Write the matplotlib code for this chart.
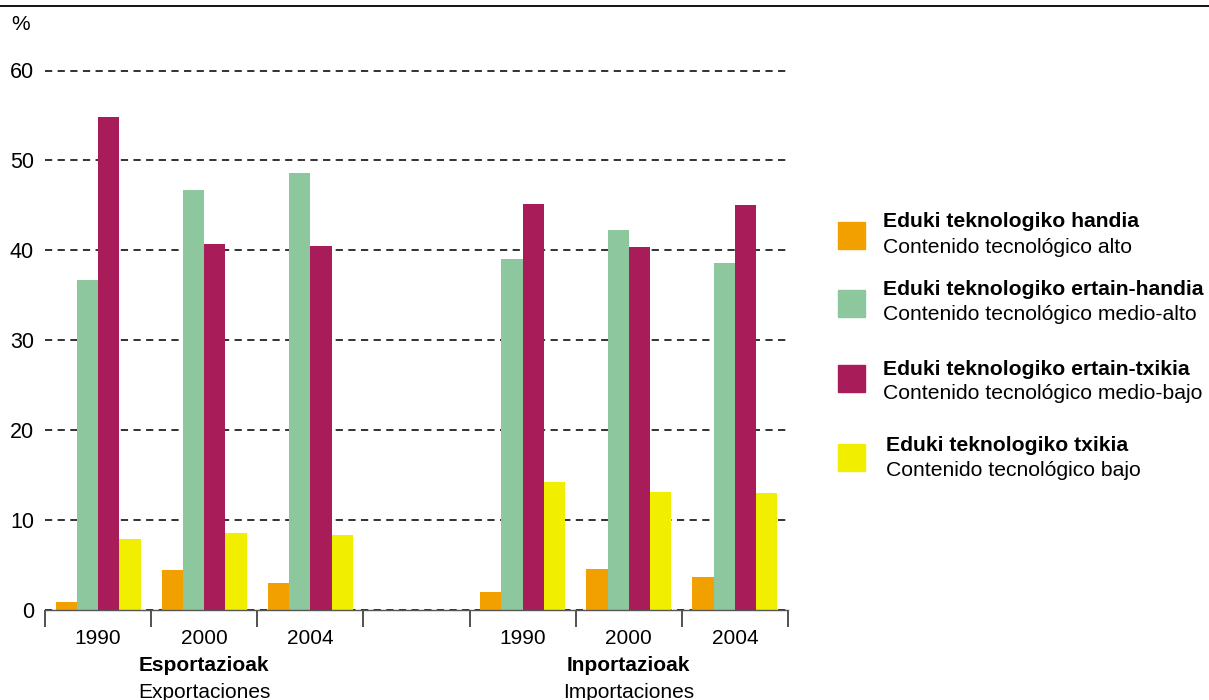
import numpy as np
import matplotlib.pyplot as plt
from matplotlib.patches import Rectangle
from matplotlib.lines import Line2D

plt.rcParams['font.family'] = ['Liberation Sans', 'DejaVu Sans']

# data (%)
years = ['1990', '2000', '2004']
export_slots = [0, 1, 2]
import_slots = [4, 5, 6]

export_alto = [0.85, 4.4, 2.95]
export_medio_alto = [36.7, 46.7, 48.6]
export_medio_bajo = [54.8, 40.7, 40.5]
export_bajo = [7.85, 8.5, 8.3]

import_alto = [1.95, 4.5, 3.6]
import_medio_alto = [39.0, 42.2, 38.6]
import_medio_bajo = [45.1, 40.3, 45.0]
import_bajo = [14.2, 13.1, 13.0]

names_eu = ['Eduki teknologiko handia', 'Eduki teknologiko ertain-handia',
            'Eduki teknologiko ertain-txikia', 'Eduki teknologiko txikia']
names_es = ['Contenido tecnológico alto', 'Contenido tecnológico medio-alto',
            'Contenido tecnológico medio-bajo', 'Contenido tecnológico bajo']
colors = ['#F2A000', '#8DC79E', '#A71C59', '#F2EE00']

W, H = 1209, 700
fig = plt.figure(figsize=(W / 100, H / 100), dpi=100)

def fx(px):
    return px / W

def fy(py):
    return 1 - py / H

ax = fig.add_axes([fx(45), fy(609.5), fx(788) - fx(45), fy(70.5) - fy(609.5)])

exports = [export_alto, export_medio_alto, export_medio_bajo, export_bajo]
imports = [import_alto, import_medio_alto, import_medio_bajo, import_bajo]
bw = 0.2
for k in range(4):
    ax.bar(np.array(export_slots) + 0.1 + k * bw, exports[k], width=bw,
           align='edge', color=colors[k], zorder=2)
    ax.bar(np.array(import_slots) + 0.1 + k * bw, imports[k], width=bw,
           align='edge', color=colors[k], zorder=2)

ax.set_xlim(0, 7)
ax.set_ylim(0, 60)

# dashed gridlines
for v in range(0, 70, 10):
    ax.axhline(v, color='#222222', lw=1.3, ls=(0, (4, 3)), zorder=1, clip_on=False)

for s in ['left', 'right', 'top']:
    ax.spines[s].set_visible(False)
ax.spines['bottom'].set_color('#555555')
ax.spines['bottom'].set_linewidth(1.0)
ax.spines['bottom'].set_zorder(3)

ax.set_yticks(range(0, 70, 10))
ax.tick_params(axis='y', length=0, pad=8, labelsize=15.5)

ax.set_xticks(range(0, 8))
ax.set_xticklabels([])
ax.tick_params(axis='x', which='major', length=12, width=1.2, color='#333333', direction='out')
ax.set_xticks([s + 0.5 for s in export_slots + import_slots], minor=True)
ax.set_xticklabels(years + years, minor=True)
ax.tick_params(axis='x', which='minor', length=0, pad=14, labelsize=15)

tr = ax.get_xaxis_transform()
ax.text(1.5, (609.5 - 671) / 539, 'Esportazioak', transform=tr, ha='center',
        va='baseline', fontsize=15, fontweight='bold')
ax.text(1.5, (609.5 - 698) / 539, 'Exportaciones', transform=tr, ha='center',
        va='baseline', fontsize=15)
ax.text(5.5, (609.5 - 671) / 539, 'Inportazioak', transform=tr, ha='center',
        va='baseline', fontsize=15, fontweight='bold')
ax.text(5.5, (609.5 - 698) / 539, 'Importaciones', transform=tr, ha='center',
        va='baseline', fontsize=15)

# "%" unit label and top rule
fig.text(fx(11), fy(25), '%', fontsize=15, va='center', ha='left')
fig.add_artist(Line2D([0, 1], [fy(5.5), fy(5.5)], color='black', lw=1.3))

# legend drawn by hand (two-line labels, bold first line)
sq_top = [222, 290, 365, 444]
eu_base = [227, 295, 375, 451]
es_base = [253, 320, 399, 476]
text_x = [883, 883, 883, 886]
for k in range(4):
    fig.patches.append(Rectangle((fx(838), fy(sq_top[k] + 27)), fx(27), fy(0) - fy(27),
                                 transform=fig.transFigure, color=colors[k]))
    fig.text(fx(text_x[k]), fy(eu_base[k]), names_eu[k], fontsize=15.2,
             fontweight='bold', va='baseline', ha='left')
    fig.text(fx(text_x[k]), fy(es_base[k]), names_es[k], fontsize=15.2,
             va='baseline', ha='left')

fig.savefig('out.png', dpi=100)
